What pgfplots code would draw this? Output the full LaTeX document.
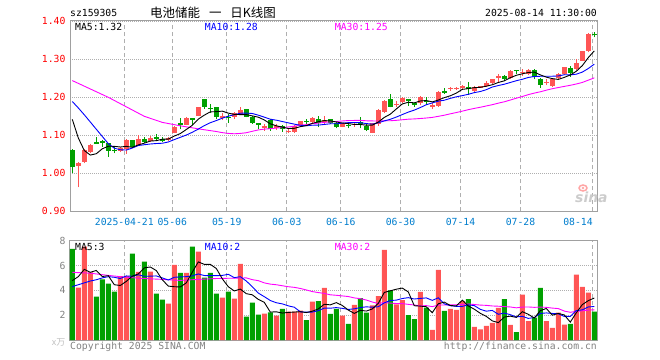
\documentclass[border=0pt]{standalone}
\usepackage{pgfplots}
\pgfplotsset{compat=1.18}
\usepackage{pgfplotstable}
\usepackage{fontspec}
\setmainfont{DejaVu Sans Mono}
\newfontfamily\mono{DejaVu Sans Mono}
\newfontfamily\cjk{Noto Sans CJK SC}
\newfontfamily\dvs{DejaVu Sans}
\definecolor{up}{RGB}{255,85,85}
\definecolor{dn}{RGB}{0,160,0}
\definecolor{maten}{RGB}{0,0,255}
\definecolor{mathirty}{RGB}{255,0,255}
\definecolor{tickred}{RGB}{255,0,0}
\definecolor{dateblue}{RGB}{0,125,205}
\definecolor{framegray}{RGB}{160,160,160}
\definecolor{gridgray}{RGB}{175,175,175}
\definecolor{txtgray}{RGB}{130,130,130}
\newcommand{\mf}{\mono\fontsize{9.8pt}{11pt}\selectfont}

\pgfplotstableread{
k o h l c v
0 1.0614 1.0640 1.0000 1.0158 7.33
1 1.0202 1.0290 0.9630 1.0263 4.21
2 1.0289 1.0650 1.0270 1.0614 7.52
3 1.0561 1.0770 1.0530 1.0746 5.45
4 1.0808 1.0947 1.0780 1.0795 3.49
5 1.0842 1.0877 1.0702 1.0807 4.89
6 1.0789 1.0800 1.0439 1.0596 4.54
7 1.0620 1.0684 1.0526 1.0605 3.89
8 1.0588 1.0680 1.0560 1.0658 5.15
9 1.0632 1.0895 1.0509 1.0877 5.15
10 1.0877 1.0880 1.0660 1.0684 6.95
11 1.0746 1.1000 1.0720 1.0912 5.48
12 1.0904 1.0947 1.0790 1.0833 6.31
13 1.0860 1.0990 1.0830 1.0939 5.50
14 1.0938 1.1035 1.0860 1.0925 3.73
15 1.0890 1.0947 1.0830 1.0877 3.25
16 1.0877 1.0950 1.0860 1.0930 2.93
17 1.1070 1.1246 1.1050 1.1228 6.04
18 1.1333 1.1447 1.1158 1.1263 5.40
19 1.1280 1.1490 1.1260 1.1465 5.40
20 1.1443 1.1443 1.1270 1.1430 7.52
21 1.1509 1.1750 1.1500 1.1737 7.11
22 1.1947 1.1965 1.1700 1.1754 5.02
23 1.1713 1.1825 1.1596 1.1700 5.40
24 1.1737 1.1750 1.1439 1.1491 3.73
25 1.1487 1.1580 1.1400 1.1500 3.41
26 1.1483 1.1550 1.1330 1.1470 3.89
27 1.1474 1.1620 1.1420 1.1596 3.33
28 1.1560 1.1740 1.1530 1.1667 6.12
29 1.1684 1.1690 1.1470 1.1491 1.88
30 1.1490 1.1500 1.1310 1.1333 3.00
31 1.1311 1.1333 1.1160 1.1298 2.04
32 1.1219 1.1300 1.1120 1.1232 2.12
33 1.1404 1.1420 1.1120 1.1158 2.23
34 1.1217 1.1290 1.1140 1.1230 1.96
35 1.1246 1.1260 1.1100 1.1158 2.50
36 1.1105 1.1180 1.1050 1.1118 2.28
37 1.1096 1.1270 1.1070 1.1254 2.28
38 1.1246 1.1380 1.1230 1.1377 2.36
39 1.1378 1.1430 1.1300 1.1365 1.61
40 1.1350 1.1480 1.1316 1.1456 3.09
41 1.1420 1.1510 1.1210 1.1333 3.14
42 1.1351 1.1510 1.1270 1.1404 4.19
43 1.1420 1.1430 1.1310 1.1333 2.10
44 1.1333 1.1340 1.1180 1.1228 2.51
45 1.1228 1.1330 1.1210 1.1316 1.96
46 1.1271 1.1333 1.1180 1.1258 1.29
47 1.1280 1.1360 1.1230 1.1293 2.82
48 1.1343 1.1470 1.1180 1.1330 3.38
49 1.1246 1.1316 1.1110 1.1140 2.20
50 1.1070 1.1330 1.1060 1.1316 2.79
51 1.1298 1.1680 1.1246 1.1667 3.54
52 1.1614 1.1930 1.1600 1.1904 7.25
53 1.1947 1.2088 1.1737 1.1754 4.00
54 1.1810 1.1910 1.1737 1.1825 2.87
55 1.1886 1.2020 1.1840 1.1974 3.22
56 1.1947 1.1960 1.1770 1.1895 2.01
57 1.1833 1.1860 1.1750 1.1820 1.69
58 1.1860 1.2035 1.1790 1.2000 3.87
59 1.1903 1.2000 1.1790 1.1890 2.60
60 1.1778 1.1860 1.1700 1.1790 0.81
61 1.1772 1.2160 1.1750 1.2140 5.64
62 1.2150 1.2246 1.2090 1.2137 2.34
63 1.2228 1.2280 1.2170 1.2241 2.50
64 1.2230 1.2280 1.2180 1.2243 2.42
65 1.2272 1.2320 1.2190 1.2285 3.14
66 1.2253 1.2410 1.2060 1.2240 3.30
67 1.2175 1.2290 1.2150 1.2263 1.05
68 1.2272 1.2310 1.2240 1.2285 0.86
69 1.2298 1.2420 1.2270 1.2386 1.13
70 1.2368 1.2490 1.2350 1.2474 1.37
71 1.2531 1.2614 1.2412 1.2544 2.58
72 1.2561 1.2590 1.2440 1.2474 3.30
73 1.2500 1.2710 1.2480 1.2702 1.21
74 1.2713 1.2713 1.2614 1.2700 0.64
75 1.2657 1.2754 1.2560 1.2670 3.65
76 1.2614 1.2740 1.2580 1.2719 1.53
77 1.2719 1.2754 1.2474 1.2526 1.80
78 1.2491 1.2500 1.2246 1.2333 4.19
79 1.2394 1.2470 1.2316 1.2407 1.53
80 1.2298 1.2490 1.2280 1.2474 0.97
81 1.2500 1.2632 1.2460 1.2614 2.20
82 1.2614 1.2810 1.2600 1.2790 1.23
83 1.2780 1.2825 1.2544 1.2650 1.29
84 1.2754 1.3000 1.2730 1.2900 5.26
85 1.2965 1.3230 1.2950 1.3219 4.27
86 1.3210 1.3680 1.3180 1.3667 3.81
87 1.3671 1.3728 1.3580 1.3658 2.28
}\kdata

\pgfplotstableread{
k m
0 1.142
1 1.093
2 1.060
3 1.048
4 1.0515
5 1.0645
6 1.0712
7 1.0710
8 1.0692
9 1.0709
10 1.0684
11 1.0747
12 1.0793
13 1.0849
14 1.0859
15 1.0897
16 1.0901
17 1.0980
18 1.1045
19 1.1153
20 1.1263
21 1.1425
22 1.1530
23 1.1617
24 1.1622
25 1.1636
26 1.1583
27 1.1551
28 1.1545
29 1.1545
30 1.1511
31 1.1477
32 1.1404
33 1.1302
34 1.1250
35 1.1215
36 1.1179
37 1.1184
38 1.1227
39 1.1254
40 1.1314
41 1.1357
42 1.1387
43 1.1378
44 1.1351
45 1.1323
46 1.1308
47 1.1286
48 1.1285
49 1.1267
50 1.1267
51 1.1349
52 1.1471
53 1.1556
54 1.1693
55 1.1825
56 1.1870
57 1.1854
58 1.1903
59 1.1916
60 1.1879
61 1.1928
62 1.1991
63 1.2040
64 1.2110
65 1.2209
66 1.2229
67 1.2254
68 1.2263
69 1.2292
70 1.2330
71 1.2390
72 1.2433
73 1.2516
74 1.2579
75 1.2618
76 1.2653
77 1.2663
78 1.2590
79 1.2531
80 1.2492
81 1.2471
82 1.2524
83 1.2587
84 1.2685
85 1.2834
86 1.3045
87 1.3222
}\mafive

\pgfplotstableread{
k m
0 1.189
1 1.172
2 1.154
3 1.135
4 1.116
5 1.097
6 1.078
7 1.066
8 1.062
9 1.0612
10 1.0665
11 1.0730
12 1.0752
13 1.0771
14 1.0784
15 1.0791
16 1.0824
17 1.0887
18 1.0947
19 1.1006
20 1.1080
21 1.1163
22 1.1255
23 1.1331
24 1.1388
25 1.1450
26 1.1504
27 1.1541
28 1.1581
29 1.1584
30 1.1574
31 1.1530
32 1.1478
33 1.1424
34 1.1398
35 1.1363
36 1.1328
37 1.1294
38 1.1265
39 1.1252
40 1.1265
41 1.1268
42 1.1286
43 1.1303
44 1.1303
45 1.1319
46 1.1333
47 1.1337
48 1.1332
49 1.1309
50 1.1295
51 1.1329
52 1.1379
53 1.1421
54 1.1480
55 1.1546
56 1.1610
57 1.1663
58 1.1730
59 1.1805
60 1.1852
61 1.1899
62 1.1923
63 1.1972
64 1.2013
65 1.2044
66 1.2079
67 1.2123
68 1.2152
69 1.2201
70 1.2270
71 1.2310
72 1.2344
73 1.2390
74 1.2436
75 1.2474
76 1.2522
77 1.2548
78 1.2553
79 1.2555
80 1.2555
81 1.2562
82 1.2594
83 1.2589
84 1.2608
85 1.2663
86 1.2758
87 1.2873
}\maten

\pgfplotstableread{
k m
0 1.244
3 1.222
6 1.200
9 1.175
12 1.150
15 1.134
18 1.125
21 1.117
24 1.110
25 1.107
26 1.105
27 1.104
28 1.105
29 1.1067
30 1.1106
31 1.1141
32 1.1162
33 1.1175
34 1.1190
35 1.1201
36 1.1219
37 1.1241
38 1.1264
39 1.1281
40 1.1306
41 1.1320
42 1.1340
43 1.1353
44 1.1363
45 1.1377
46 1.1388
47 1.1391
48 1.1393
49 1.1382
50 1.1378
51 1.1376
52 1.1381
53 1.1383
54 1.1394
55 1.1409
56 1.1424
57 1.1431
58 1.1442
59 1.1455
60 1.1471
61 1.1499
62 1.1529
63 1.1565
64 1.1599
65 1.1636
66 1.1674
67 1.1708
68 1.1738
69 1.1772
70 1.1806
71 1.1846
72 1.1882
73 1.1928
74 1.1976
75 1.2021
76 1.2070
77 1.2111
78 1.2145
79 1.2187
80 1.2226
81 1.2257
82 1.2287
83 1.2316
84 1.2350
85 1.2391
86 1.2451
87 1.2512
}\mathirty

\pgfplotstableread{
k m
0 4.78
1 5.10
2 5.69
3 5.45
4 5.60
5 5.11
6 5.18
7 4.45
8 4.39
9 4.72
10 5.14
11 5.32
12 5.81
13 5.88
14 5.59
15 4.85
16 4.34
17 4.29
18 4.27
19 4.60
20 5.46
21 6.29
22 6.09
23 6.09
24 5.76
25 4.93
26 4.29
27 3.95
28 4.10
29 3.73
30 3.64
31 3.27
32 3.03
33 2.25
34 2.27
35 2.17
36 2.22
37 2.25
38 2.28
39 2.21
40 2.32
41 2.50
42 2.88
43 2.83
44 3.01
45 2.78
46 2.41
47 2.14
48 2.39
49 2.33
50 2.50
51 2.95
52 3.83
53 3.96
54 4.09
55 4.18
56 3.87
57 2.76
58 2.73
59 2.68
60 2.20
61 2.92
62 3.05
63 2.78
64 2.74
65 3.21
66 2.74
67 2.48
68 2.15
69 1.90
70 1.54
71 1.40
72 1.85
73 1.92
74 1.82
75 2.28
76 2.07
77 1.77
78 2.36
79 2.54
80 2.00
81 2.14
82 2.02
83 1.44
84 2.19
85 2.85
86 3.17
87 3.38
}\vfive

\pgfplotstableread{
k m
0 4.30
1 4.45
2 4.60
3 4.75
4 4.85
5 5.00
6 5.10
7 5.05
8 4.95
9 5.16
10 5.13
11 5.25
12 5.13
13 5.14
14 5.16
15 5.00
16 4.83
17 5.05
18 5.08
19 5.10
20 5.16
21 5.32
22 5.19
23 5.18
24 5.18
25 5.20
26 5.29
27 5.02
28 5.10
29 4.75
30 4.29
31 3.78
32 3.49
33 3.18
34 3.00
35 2.91
36 2.75
37 2.64
38 2.27
39 2.24
40 2.25
41 2.36
42 2.57
43 2.56
44 2.61
45 2.55
46 2.46
47 2.51
48 2.61
49 2.67
50 2.64
51 2.68
52 2.99
53 3.18
54 3.21
55 3.34
56 3.41
57 3.30
58 3.35
59 3.39
60 3.19
61 3.40
62 2.91
63 2.76
64 2.71
65 2.71
66 2.83
67 2.77
68 2.47
69 2.32
70 2.38
71 2.07
72 2.17
73 2.04
74 1.86
75 1.91
76 1.74
77 1.81
78 2.14
79 2.18
80 2.14
81 2.11
82 1.90
83 1.90
84 2.37
85 2.43
86 2.66
87 2.70
}\vten

\pgfplotstableread{
k m
0 5.45
3 5.38
6 5.20
9 5.05
12 4.95
15 4.88
18 4.80
21 4.88
24 4.95
27 4.98
29 5.00
30 4.86
31 4.78
32 4.60
33 4.50
34 4.45
35 4.37
36 4.29
37 4.24
38 4.15
39 4.03
40 3.90
41 3.82
42 3.75
43 3.64
44 3.60
45 3.55
46 3.50
47 3.39
48 3.33
49 3.22
50 3.06
51 2.94
52 3.02
53 2.97
54 2.94
55 2.93
56 2.87
57 2.82
58 2.74
59 2.77
60 2.69
61 2.81
62 2.82
63 2.83
64 2.84
65 2.87
66 2.90
67 2.86
68 2.81
69 2.79
70 2.74
71 2.72
72 2.69
73 2.66
74 2.59
75 2.65
76 2.66
77 2.63
78 2.65
79 2.63
80 2.57
81 2.53
82 2.33
83 2.23
84 2.31
85 2.35
86 2.41
87 2.43
}\vthirty

\pgfplotsset{
 kpanel/.style={
  x=6bp, xmin=-0.383, xmax=87.567,
  axis line style={draw=framegray, line width=1bp},
  major tick length=0pt, tick style={draw=none},
  xtick={8.667,16.667,25.733,35.733,44.733,54.7,64.7,74.7,86.733},
  xmajorgrids, ymajorgrids,
  x grid style={draw=gridgray, line width=1bp, dash pattern=on 4bp off 3bp},
  y grid style={draw=gridgray, line width=1bp, dash pattern=on 1bp off 1bp},
  tick label style={font=\mf},
  yticklabel style={anchor=east, inner sep=0pt, xshift=-4.3bp},
 },
 maline/.style={line width=0.9bp, mark=none},
 cbar/.style={draw=none, mark=none, no markers, forget plot, restrict y to domain=0:100},
}

\begin{document}
\begin{tikzpicture}
\path[use as bounding box] (0,0) rectangle (660bp,-360bp);

% ---------- price panel ----------
\begin{axis}[kpanel,
  at={(70bp,-211.3bp)}, anchor=south west,
  y=380bp, ymin=0.9, ymax=1.4026,
  ytick={0.9,1,1.1,1.2,1.3,1.4},
  yticklabels={0.90,1.00,1.10,1.20,1.30,1.40},
  yticklabel style={text=tickred},
  xticklabels={2025-04-21,05-06,05-19,06-03,06-16,06-30,07-14,07-28,\makebox[0pt][r]{08-14}},
  xticklabel style={text=dateblue, anchor=base, inner sep=0pt, yshift=-14.5bp},
]
% wicks
\addplot[cbar,
  error bars/.cd, y dir=plus, y explicit, error mark=none,
  error bar style={draw=up, line width=1bp}]
  table[x=k, y expr={\thisrow{c}>=\thisrow{o} ? \thisrow{l} : -10},
        y error plus expr={\thisrow{h}-\thisrow{l}}] {\kdata};
\addplot[cbar,
  error bars/.cd, y dir=plus, y explicit, error mark=none,
  error bar style={draw=dn, line width=1bp}]
  table[x=k, y expr={\thisrow{c}<\thisrow{o} ? \thisrow{l} : -10},
        y error plus expr={\thisrow{h}-\thisrow{l}}] {\kdata};
% bodies
\addplot[cbar,
  error bars/.cd, y dir=both, y explicit, error mark=none,
  error bar style={draw=up, line width=5bp}]
  table[x=k, y expr={\thisrow{c}>=\thisrow{o} ? 0.5*(\thisrow{o}+\thisrow{c}) : -10},
        y error expr={0.5*max(abs(\thisrow{c}-\thisrow{o}),0.0027)}] {\kdata};
\addplot[cbar,
  error bars/.cd, y dir=both, y explicit, error mark=none,
  error bar style={draw=dn, line width=5bp}]
  table[x=k, y expr={\thisrow{c}<\thisrow{o} ? 0.5*(\thisrow{o}+\thisrow{c}) : -10},
        y error expr={0.5*max(abs(\thisrow{c}-\thisrow{o}),0.0027)}] {\kdata};
% moving averages
\addplot[maline, draw=mathirty] table[x=k, y=m] {\mathirty};
\addplot[maline, draw=maten] table[x=k, y=m] {\maten};
\addplot[maline, draw=black] table[x=k, y=m] {\mafive};
\end{axis}

% ---------- volume panel ----------
\begin{axis}[kpanel,
  at={(70bp,-340bp)}, anchor=south west,
  y=12.42bp, ymin=0, ymax=8,
  ytick={2,4,6,8}, yticklabels={2,4,6,8},
  yticklabel style={text=txtgray},
  xticklabels={},
]
\addplot[ybar, bar width=5bp, bar shift=0pt, fill=up, draw=none, forget plot,
  restrict y to domain=0:100]
  table[x=k, y expr={\thisrow{c}>=\thisrow{o} ? \thisrow{v} : -10}] {\kdata};
\addplot[ybar, bar width=5bp, bar shift=0pt, fill=dn, draw=none, forget plot,
  restrict y to domain=0:100]
  table[x=k, y expr={\thisrow{c}<\thisrow{o} ? \thisrow{v} : -10}] {\kdata};
\addplot[maline, draw=mathirty] table[x=k, y=m] {\vthirty};
\addplot[maline, draw=maten] table[x=k, y=m] {\vten};
\addplot[maline, draw=black] table[x=k, y=m] {\vfive};
\end{axis}

% ---------- texts ----------
\node[anchor=base west, inner sep=0] at (70bp,-16.7bp) {\mf sz159305};
\node[anchor=base west, inner sep=0] at (150bp,-17bp)
  {\cjk\fontsize{12.5pt}{13pt}\selectfont 电池储能\hspace{9bp}一\hspace{9bp}日K线图};
\node[anchor=base east, inner sep=0] at (597bp,-16bp) {\mf 2025-08-14 11:30:00};
\node[anchor=base west, inner sep=0] at (75bp,-30bp) {\mf MA5:1.32};
\node[anchor=base west, inner sep=0, text=maten] at (204.7bp,-30bp) {\mf MA10:1.28};
\node[anchor=base west, inner sep=0, text=mathirty] at (334.7bp,-30bp) {\mf MA30:1.25};
\node[anchor=base west, inner sep=0] at (75bp,-250bp) {\mf MA5:3};
\node[anchor=base west, inner sep=0, text=maten] at (204.7bp,-250bp) {\mf MA10:2};
\node[anchor=base west, inner sep=0, text=mathirty] at (334.7bp,-250bp) {\mf MA30:2};
\node[anchor=base east, inner sep=0, text=gray!50] at (65.5bp,-345bp)
  {\cjk\fontsize{9pt}{10pt}\selectfont\itshape x万};
\node[anchor=base west, inner sep=0, text=txtgray] at (70bp,-349bp) {\mf Copyright 2025 SINA.COM};
\node[anchor=base east, inner sep=0, text=txtgray] at (597bp,-349bp) {\mf http://finance.sina.com.cn};
% watermark
\draw[red!35, line width=1.5bp] (583bp,-188bp) ellipse (4bp and 3bp);
\fill[red!35] (583bp,-188bp) circle (1.3bp);
\node[anchor=base west, inner sep=0, text=gray!40] at (575bp,-202bp)
  {\dvs\bfseries\itshape\fontsize{14pt}{14pt}\selectfont sina};
\end{tikzpicture}
\end{document}
